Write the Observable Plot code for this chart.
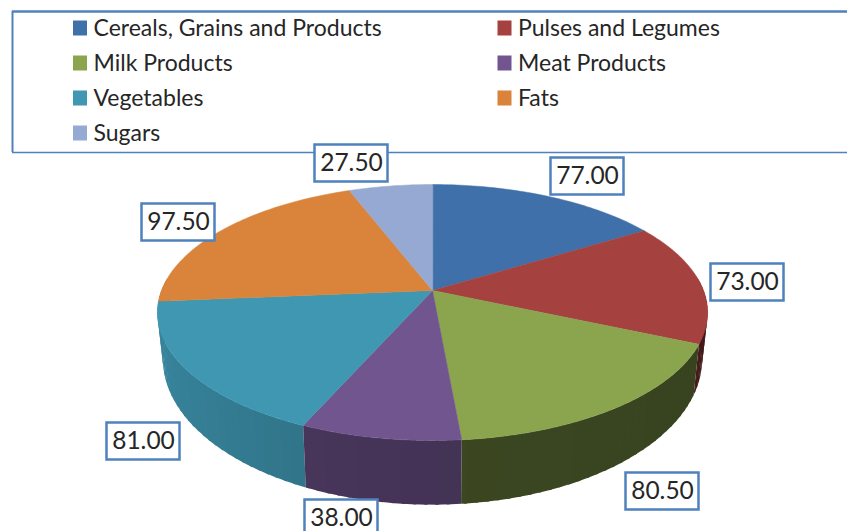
<!DOCTYPE html>
<html>
<head>
<meta charset="utf-8">
<script src="https://cdn.jsdelivr.net/npm/d3@7"></script>
<script src="https://cdn.jsdelivr.net/npm/@observablehq/plot@0.6"></script>
<style>
html,body{margin:0;padding:0;background:#fff;overflow:hidden}
svg{display:block}
</style>
</head>
<body>
<div id="chart"></div>
<script>
// Data
const categories = ["Cereals, Grains and Products","Pulses and Legumes","Milk Products","Meat Products","Vegetables","Fats","Sugars"];
const values = [77.00,73.00,80.50,38.00,81.00,97.50,27.50];
const colors = ["#3f70a9","#a5413f","#8aa54e","#71558f","#3f97b2","#d9843a","#95a9d2"];

// Layout and style
const W = 847, H = 531;
const pie = {cx:432, cy:290, B:271, A:124.2, k:-0.172, depth:44, shrink:0.98};
const sideShade = [0.5,0.45,0.43,0.6,0.7,0.7,0.7];
const sideSlope = [0,0.05,0.03,0.08,0.18,0,0];
const labelCentres = [[587,176],[747,282],[662,491],[341,518],[143,441],[178,222],[351,163]];
const boxW = 36.5, boxH = 18.5;
const legendRows = [28,63,98,133], legendCols = [73,497.5];
const frame = {l:12, t:11, b:152};
const ink = "#262626", boxBlue = "#4f81bd";

// Geometry: perspective-projected disc, clockwise from 12 o'clock
const total = d3.sum(values);
function project(deg){
  const a = deg*Math.PI/180, u = Math.sin(a), v = -Math.cos(a), w = 1+pie.k*v;
  return {u, v, x:pie.cx+pie.B*u/w, y:pie.cy+pie.A*v/w, w};
}
function lower(deg){
  const p = project(deg);
  return {x:pie.cx+(p.x-pie.cx)*pie.shrink, y:p.y+pie.depth/(p.w*p.w)};
}
let cum = 0;
const slices = values.map((val,i)=>{
  const start = cum/total*360; cum += val; const end = cum/total*360;
  return {i,start,end};
});
const topPts = [], segments = [];
for (const s of slices){
  topPts.push({key:s.i,x:pie.cx,y:pie.cy,fill:colors[s.i]});
  for (let d=s.start;;d=Math.min(d+1,s.end)){
    const p=project(d); topPts.push({key:s.i,x:p.x,y:p.y,fill:colors[s.i]});
    if(d>=s.end) break;
  }
  for (let d=s.start;d<s.end;d+=2){
    const e=Math.min(d+2.6,s.end), mid=project(d+1);
    if(mid.v<-0.1) continue;
    const f=sideShade[s.i]-sideSlope[s.i]*mid.u;
    const c=d3.rgb(colors[s.i]);
    const fill=d3.rgb(c.r*f,c.g*f,c.b*f).formatHex();
    segments.push({key:s.i+"-"+d,order:lower(d+1).y,fill,d,e});
  }
}
segments.sort((a,b)=>a.order-b.order);
const sidePts = segments.flatMap(g=>[project(g.d),project(g.e),lower(g.e),lower(g.d)].map(q=>({key:g.key,x:q.x,y:q.y,fill:g.fill})));
const labels = values.map((val,i)=>({text:val.toFixed(2),x:labelCentres[i][0],y:labelCentres[i][1]}));
const legend = categories.map((name,i)=>({name,color:colors[i],x:legendCols[i%2],y:legendRows[Math.floor(i/2)]}));

const font = "Lato, 'Open Sans', sans-serif";
const chart = Plot.plot({
  width:W, height:H, margin:0,
  x:{domain:[0,W],range:[0,W],axis:null},
  y:{domain:[0,H],range:[0,H],axis:null},
  style:{background:"#fff",fontFamily:font},
  marks:[
    Plot.ruleY([frame.t],{x1:frame.l,x2:W,stroke:boxBlue,strokeWidth:2.5}),
    Plot.ruleY([frame.b],{x1:frame.l,x2:W,stroke:boxBlue,strokeWidth:1.5}),
    Plot.ruleX([frame.l],{y1:frame.t,y2:frame.b,stroke:boxBlue,strokeWidth:2}),
    Plot.rect(legend,{x1:d=>d.x,x2:d=>d.x+14,y1:d=>d.y-7.5,y2:d=>d.y+7.5,fill:"color"}),
    Plot.text(legend,{x:d=>d.x+20,y:"y",text:"name",textAnchor:"start",fill:ink,fontSize:23,fontFamily:font,lineAnchor:"middle"}),
    Plot.line(sidePts,{x:"x",y:"y",z:"key",fill:"fill",strokeWidth:0,curve:"linear-closed"}),
    Plot.line(topPts,{x:"x",y:"y",z:"key",fill:"fill",stroke:"fill",strokeWidth:0.5,curve:"linear-closed"}),
    Plot.rect(labels,{x1:d=>d.x-boxW,x2:d=>d.x+boxW,y1:d=>d.y-boxH,y2:d=>d.y+boxH,fill:"#fff",stroke:boxBlue,strokeWidth:2.5}),
    Plot.text(labels,{x:"x",y:"y",text:"text",fill:ink,fontSize:24.5,fontFamily:font,lineAnchor:"middle"})
  ]
});
document.getElementById("chart").append(chart);
</script>
</body>
</html>
